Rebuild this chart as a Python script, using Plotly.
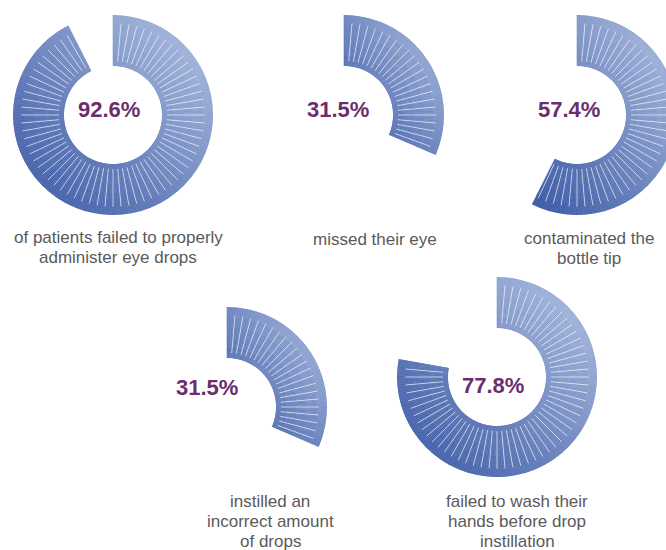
import numpy as np
import plotly.graph_objects as go

# ---- data ----
values = [92.6, 31.5, 57.4, 31.5, 77.8]
pct_labels = ["92.6%", "31.5%", "57.4%", "31.5%", "77.8%"]
captions = [
    ["of patients failed to properly", "administer eye drops"],
    ["missed their eye"],
    ["contaminated the", "bottle tip"],
    ["instilled an", "incorrect amount", "of drops"],
    ["failed to wash their", "hands before drop", "instillation"],
]

# ---- layout (pixels) ----
W, H = 680, 550
R = 100
HOLE = 0.49
ring_centers = [(113, 115), (344, 115), (577, 115), (227, 407), (497, 377)]
pct_pos = [(109, 110), (338, 110), (569, 110), (207, 387), (493, 385)]
cap_pos = [(118, 237), (375, 239), (589, 238), (270, 501), (517, 501)]
LINE_GAP = 20

LIGHT = np.array([182, 198, 229])
DARK = np.array([60, 90, 166])
PURPLE = "#6b2d6c"
GREY = "#5a5a5a"

fig = go.Figure()
layout_polars = {}

for i, v in enumerate(values):
    sub = "polar" if i == 0 else f"polar{i+1}"
    end = v * 3.6
    # bounding box of the ring shape (gradient is applied across it)
    sa = np.radians(np.linspace(0, end, 721))
    bx = np.concatenate([np.sin(sa), HOLE * np.sin(sa)])
    by = np.concatenate([np.cos(sa), HOLE * np.cos(sa)])
    xmin, xmax, ymin, ymax = bx.min(), bx.max(), by.min(), by.max()

    edges = np.arange(0, end, 1.0)
    widths = np.minimum(1.0, end - edges)
    thetas = edges + widths / 2
    bands = np.linspace(0, 1, 6)[:-1]
    TH, BA = np.meshgrid(thetas, bands)
    WD, _ = np.meshgrid(widths, bands)
    TH, BA, WD = TH.ravel(), BA.ravel(), WD.ravel()
    rho = HOLE + (1 - HOLE) * (BA + 0.1)
    x = rho * np.sin(np.radians(TH))
    y = rho * np.cos(np.radians(TH))
    u = (x - xmin) / (xmax - xmin)
    w = (y - ymin) / (ymax - ymin)
    t = np.clip((u + w) / 2, 0, 1) ** 1.2
    cols = [
        "rgb(%d,%d,%d)" % tuple((DARK + (LIGHT - DARK) * tt).round())
        for tt in t
    ]
    fig.add_trace(go.Barpolar(
        theta=TH, r=np.full_like(TH, 0.2), base=BA, width=WD * 1.02,
        marker=dict(color=cols, line=dict(color=cols, width=0.6)),
        subplot=sub, hoverinfo="skip", showlegend=False,
    ))
    # white radial tick lines
    angs = np.arange(5, end - 1.5, 5)
    lt, lr = [], []
    for a in angs:
        lt += [a, a, None]
        lr += [0.1, 0.84, None]
    fig.add_trace(go.Scatterpolar(
        theta=lt, r=lr, mode="lines",
        line=dict(color="rgba(255,255,255,0.65)", width=1),
        subplot=sub, hoverinfo="skip", showlegend=False,
    ))
    cx, cy = ring_centers[i]
    layout_polars[sub] = dict(
        domain=dict(x=[(cx - R) / W, (cx + R) / W],
                    y=[1 - (cy + R) / H, 1 - (cy - R) / H]),
        hole=HOLE,
        bgcolor="rgba(0,0,0,0)",
        radialaxis=dict(visible=False, range=[0, 1]),
        angularaxis=dict(visible=False, rotation=90, direction="clockwise"),
    )

annotations = []
for (px, py), txt in zip(pct_pos, pct_labels):
    annotations.append(dict(
        x=px / W, y=1 - py / H, xref="paper", yref="paper", text="<b>%s</b>" % txt,
        showarrow=False, xanchor="center", yanchor="middle",
        font=dict(family="Liberation Sans, Arial", size=22, color=PURPLE),
    ))
for (px, py), lines in zip(cap_pos, captions):
    for k, line in enumerate(lines):
        annotations.append(dict(
            x=px / W, y=1 - (py + k * LINE_GAP) / H, xref="paper", yref="paper",
            text=line, showarrow=False, xanchor="center", yanchor="middle",
            font=dict(family="Liberation Sans, Arial", size=17, color=GREY),
        ))

fig.update_layout(
    width=W, height=H,
    margin=dict(l=0, r=0, t=0, b=0),
    paper_bgcolor="white", plot_bgcolor="white",
    showlegend=False, hovermode=False,
    annotations=annotations,
    **layout_polars,
)

fig.write_html(
    "out.html",
    config={"displayModeBar": False},
    post_script="document.body.style.margin='0';document.body.style.overflow='hidden';",
)
